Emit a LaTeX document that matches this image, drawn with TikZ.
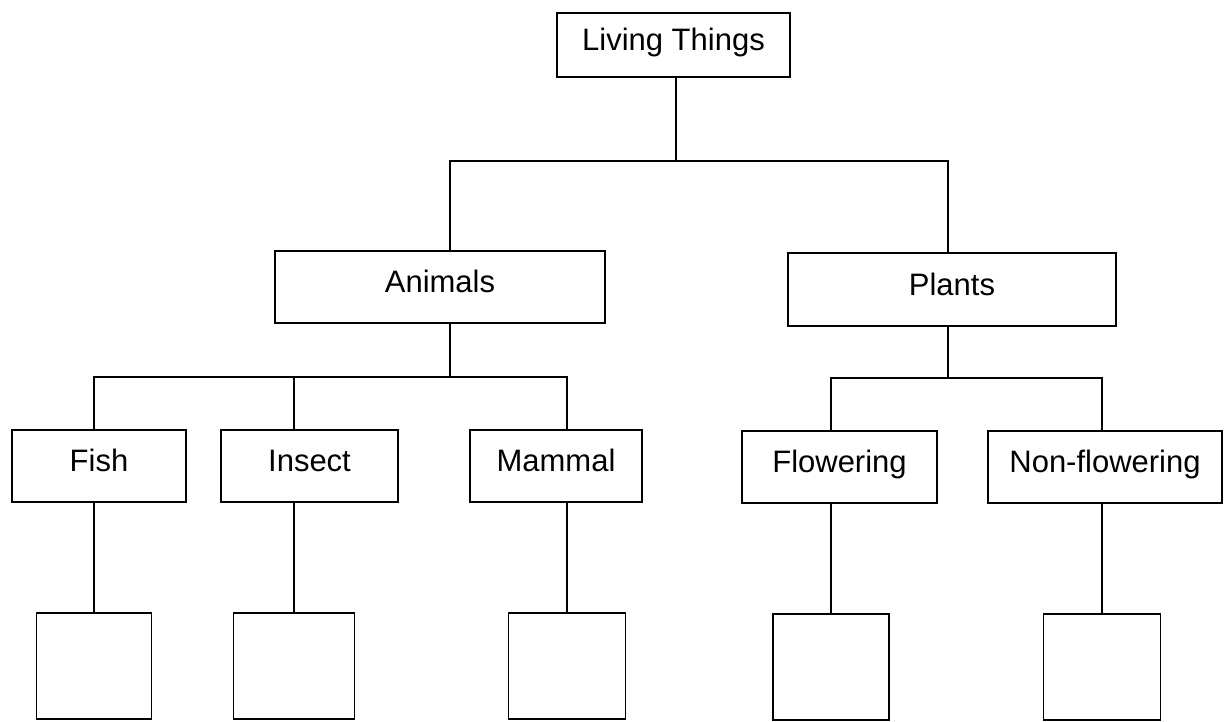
\documentclass[tikz,border=0pt]{standalone}
\usepackage{fontspec}
\setmainfont{Liberation Sans}
\usepackage{tikz}
\usetikzlibrary{positioning, calc}
\tikzstyle{group} = [rectangle, draw=black, line width=1.3pt, text centered, inner sep=0pt, text height=22pt, text depth=11pt, font=\fontsize{31}{37}\selectfont]
\tikzstyle{blank} = [rectangle, draw=black, line width=1.3pt, minimum width=117pt, minimum height=106pt, inner sep=0pt]
\tikzstyle{link} = [line width=1.3pt, color=black]

\begin{document}
\begin{tikzpicture}[x=1pt, y=-1pt]
    \useasboundingbox (0,0) rectangle (1224,721);
    \node[group, minimum width=233pt, minimum height=64pt] (living) at (673.5,45) {Living Things};
    \node[group, minimum width=330pt, minimum height=72pt] (animals) at (440,287) {Animals};
    \node[group, minimum width=328pt, minimum height=73pt] (plants) at (952,289.5) {Plants};
    \node[group, minimum width=174pt, minimum height=72pt] (fish) at (99,466) {Fish};
    \node[group, minimum width=177pt, minimum height=72pt] (insect) at (309.5,466) {Insect};
    \node[group, minimum width=172pt, minimum height=72pt] (mammal) at (556,466) {Mammal};
    \node[group, minimum width=195pt, minimum height=72pt] (flowering) at (839.5,467) {Flowering};
    \node[group, minimum width=234pt, minimum height=72pt] (nonflowering) at (1105,467) {Non-flowering};
    \node[blank, minimum width=115pt] (fishbox) at (94,666) {};
    \node[blank, minimum width=121pt] (insectbox) at (294,666) {};
    \node[blank] (mammalbox) at (567,666) {};
    \node[blank, minimum width=116pt] (floweringbox) at (831,667) {};
    \node[blank] (nonfloweringbox) at (1102,667) {};

    \coordinate (topbus) at (676,161);
    \coordinate (animalbus) at (450,377);
    \coordinate (plantbus) at (948,378);

    \draw[link] (living.south -| topbus) -- (topbus);
    \draw[link] (animals.north -| animalbus) |- (topbus) -| (plants.north -| plantbus);
    \draw[link] (animals.south -| animalbus) -- (animalbus);
    \draw[link] (plants.south -| plantbus) -- (plantbus);

    \draw[link] (fish.north -| fishbox) |- (animalbus) -| (mammal.north -| mammalbox);
    \draw[link] (insect.north -| insectbox) -- (insectbox |- animalbus);
    \draw[link] (flowering.north -| floweringbox) |- (plantbus) -| (nonflowering.north -| nonfloweringbox);

    \draw[link] (fish.south -| fishbox) -- (fishbox.north);
    \draw[link] (insect.south -| insectbox) -- (insectbox.north);
    \draw[link] (mammal.south -| mammalbox) -- (mammalbox.north);
    \draw[link] (flowering.south -| floweringbox) -- (floweringbox.north);
    \draw[link] (nonflowering.south -| nonfloweringbox) -- (nonfloweringbox.north);
\end{tikzpicture}
\end{document}
